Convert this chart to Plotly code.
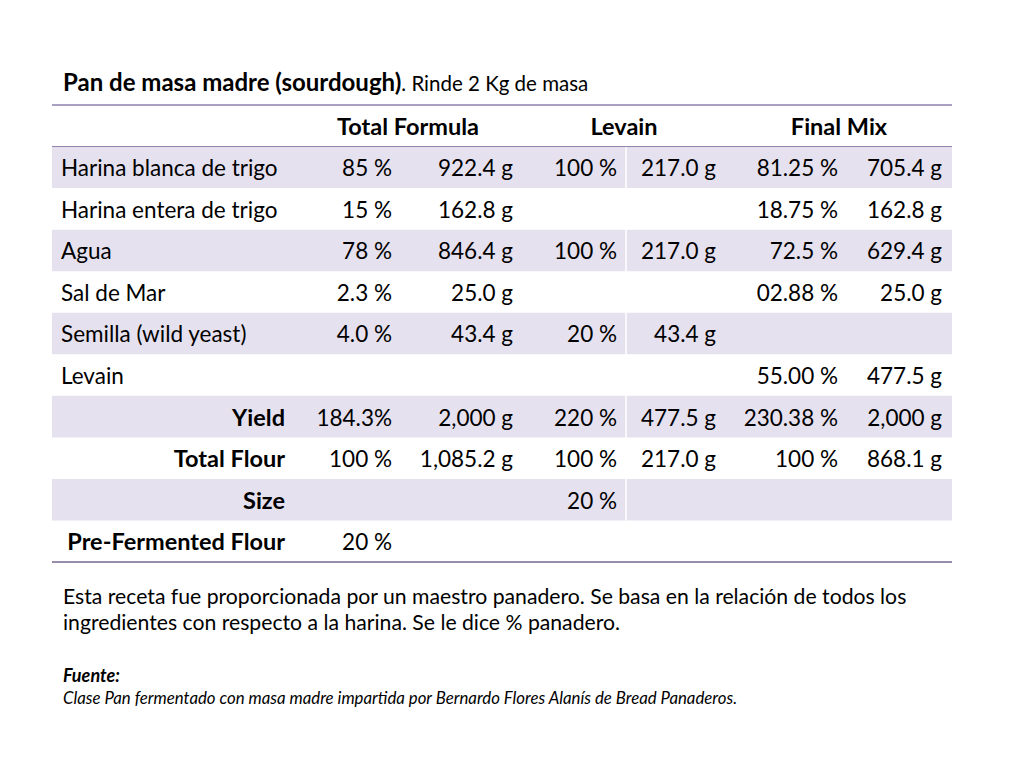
import plotly.graph_objects as go

# table data
labels = ["Harina blanca de trigo", "Harina entera de trigo", "Agua", "Sal de Mar",
          "Semilla (wild yeast)", "Levain", "Yield", "Total Flour", "Size",
          "Pre-Fermented Flour"]
bold_rows = ["Yield", "Total Flour", "Size", "Pre-Fermented Flour"]
groups = ["Total Formula", "Levain", "Final Mix"]
total_pct = ["85 %", "15 %", "78 %", "2.3 %", "4.0 %", "", "184.3%", "100 %", "", "20 %"]
total_g = ["922.4 g", "162.8 g", "846.4 g", "25.0 g", "43.4 g", "", "2,000 g", "1,085.2 g", "", ""]
levain_pct = ["100 %", "", "100 %", "", "20 %", "", "220 %", "100 %", "20 %", ""]
levain_g = ["217.0 g", "", "217.0 g", "", "43.4 g", "", "477.5 g", "217.0 g", "", ""]
final_pct = ["81.25 %", "18.75 %", "72.5 %", "02.88 %", "", "55.00 %", "230.38 %", "100 %", "", ""]
final_g = ["705.4 g", "162.8 g", "629.4 g", "25.0 g", "", "477.5 g", "2,000 g", "868.1 g", "", ""]

FONT = "Lato"
SHADE = "#e6e1ef"
LINE = "#8e80b0"

# layout: x in pixels, y in row units (header row = 0); page has an 8px body margin
off = 8
row_h = 41.55
top = 105
y_lo = (off - top) / row_h
y_hi = (768 + off - top) / row_h
left, right = 52, 952
col_right = [392, 513, 617, 716, 838, 942]
group_center = [408, 624, 839]
text_dy = 0.58  # text sits a little below the row middle

n = len(labels)
rows = [i + 1 + text_dy for i in range(n)]

fig = go.Figure()

shapes = []
for i in range(n):
    if i % 2 == 0:
        shapes.append(dict(type="rect", xref="x", yref="y", x0=left, x1=right,
                           y0=i + 1, y1=i + 2, fillcolor=SHADE, line_width=0, layer="below"))
shapes.append(dict(type="line", xref="x", yref="y", x0=626, x1=626, y0=1, y1=n,
                   line=dict(color="white", width=1.5), layer="below"))
shapes.append(dict(type="line", xref="x", yref="y", x0=left, x1=right, y0=0, y1=0,
                   line=dict(color=LINE, width=1.3)))
shapes.append(dict(type="line", xref="x", yref="y", x0=left, x1=right, y0=1, y1=1,
                   line=dict(color=LINE, width=1)))
shapes.append(dict(type="line", xref="x", yref="y", x0=left, x1=right, y0=n + 1, y1=n + 1,
                   line=dict(color="#9a8dab", width=2)))

# labels
plain_y = [rows[i] for i in range(n) if labels[i] not in bold_rows]
plain_t = [labels[i] for i in range(n) if labels[i] not in bold_rows]
bold_y = [rows[i] for i in range(n) if labels[i] in bold_rows]
bold_t = ["<b>" + labels[i] + "</b>" for i in range(n) if labels[i] in bold_rows]

fig.add_trace(go.Scatter(x=[61] * len(plain_y), y=plain_y, text=plain_t, mode="text",
                         textposition="middle right", textfont=dict(family=FONT, size=22.5, color="black"),
                         hoverinfo="skip", showlegend=False))
fig.add_trace(go.Scatter(x=[285] * len(bold_y), y=bold_y, text=bold_t, mode="text",
                         textposition="middle left", textfont=dict(family=FONT, size=23.5, color="black"),
                         hoverinfo="skip", showlegend=False))

for xr, col in zip(col_right, [total_pct, total_g, levain_pct, levain_g, final_pct, final_g]):
    fig.add_trace(go.Scatter(x=[xr] * n, y=rows, text=col, mode="text",
                             textposition="middle left",
                             textfont=dict(family=FONT, size=22.5, color="black"),
                             hoverinfo="skip", showlegend=False))

fig.add_trace(go.Scatter(x=group_center, y=[text_dy] * 3, text=["<b>" + g + "</b>" for g in groups],
                         mode="text", textposition="middle center",
                         textfont=dict(family=FONT, size=23.5, color="black"),
                         hoverinfo="skip", showlegend=False))

annotations = [
    dict(x=61, y=-0.57, xref="x", yref="y", xanchor="left", yanchor="middle", showarrow=False,
         text="<b>Pan de masa madre (sourdough)</b><span style='font-size:20.5px'>. Rinde 2 Kg de masa</span>",
         font=dict(family=FONT, size=24, color="black")),
    dict(x=61, y=(596 - top) / row_h, xref="x", yref="y", xanchor="left", yanchor="middle", showarrow=False,
         text="Esta receta fue proporcionada por un maestro panadero. Se basa en la relación de todos los",
         font=dict(family=FONT, size=21.2, color="black")),
    dict(x=61, y=(622 - top) / row_h, xref="x", yref="y", xanchor="left", yanchor="middle", showarrow=False,
         text="ingredientes con respecto a la harina. Se le dice % panadero.",
         font=dict(family=FONT, size=21.2, color="black")),
    dict(x=61, y=(675 - top) / row_h, xref="x", yref="y", xanchor="left", yanchor="middle", showarrow=False,
         text="<b><i>Fuente:</i></b>",
         font=dict(family=FONT, size=18, color="black")),
    dict(x=61, y=(697 - top) / row_h, xref="x", yref="y", xanchor="left", yanchor="middle", showarrow=False,
         text="<i>Clase Pan fermentado con masa madre impartida por Bernardo Flores Alanís de Bread Panaderos.</i>",
         font=dict(family=FONT, size=16.8, color="black")),
]

fig.update_layout(
    width=1024, height=768,
    margin=dict(l=0, r=0, t=0, b=0),
    paper_bgcolor="white", plot_bgcolor="white",
    xaxis=dict(range=[off, 1024 + off], visible=False, fixedrange=True),
    yaxis=dict(range=[y_hi, y_lo], visible=False, fixedrange=True),
    shapes=shapes, annotations=annotations,
)

fig.write_html("out.html")
